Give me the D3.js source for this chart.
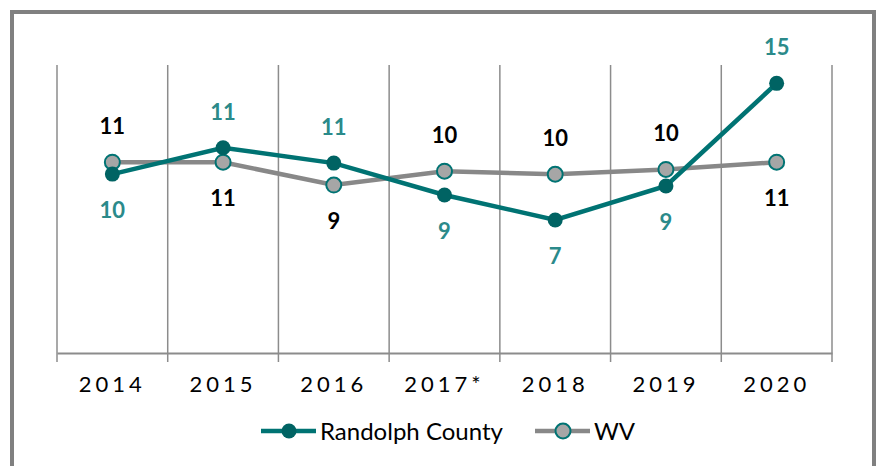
<!DOCTYPE html>
<html>
<head>
<meta charset="utf-8">
<script src="https://cdn.jsdelivr.net/npm/d3@7"></script>
<style>
  body { margin: 0; background: #fff; }
  text { font-family: Lato, "Open Sans", sans-serif; }
</style>
</head>
<body>
<div id="container"></div>
<script>
/* DATA */
const years = ["2014", "2015", "2016", "2017*", "2018", "2019", "2020"];
const randolph = [9.94, 11.4, 10.55, 8.78, 7.39, 9.28, 14.98];
const wv = [10.6, 10.6, 9.33, 10.1, 9.93, 10.2, 10.6];
const seriesNames = ["Randolph County", "WV"];

/* CONSTANTS */
const width = 880;
const height = 466;
const plot = { left: 57, right: 832, top: 65, bottom: 353 };

const teal = "#007373";
const tealDark = "#006363";
const tealText = "#2b8a8a";
const gray = "#888888";

const svg = d3.select("#container")
  .append("svg")
  .attr("width", width)
  .attr("height", height)

// outer frame
svg.append("rect")
  .attr("x", 12)
  .attr("y", 12)
  .attr("width", 862)
  .attr("height", 470)
  .attr("fill", "none")
  .attr("stroke", "#808080")
  .attr("stroke-width", 4)

const xScale = d3.scaleBand()
  .domain(years)
  .range([plot.left, plot.right])

const yScale = d3.scaleLinear()
  .domain([0, 16])
  .range([plot.bottom, plot.top])

const cx = d => xScale(d) + xScale.bandwidth() / 2;

// vertical gridlines at category boundaries
const bounds = years.map(d => xScale(d)).concat([plot.right]);
svg.selectAll(".grid")
  .data(bounds)
  .join("line")
  .attr("class", "grid")
  .attr("x1", d => d)
  .attr("x2", d => d)
  .attr("y1", plot.top)
  .attr("y2", plot.bottom + 9)
  .attr("stroke", "#8c8c8c")
  .attr("stroke-width", 1.5)

// x axis
const xAxis = d3.axisBottom(xScale).tickSize(0).tickPadding(23)
const gx = svg.append("g")
  .attr("transform", `translate(0, ${plot.bottom})`)
  .call(xAxis)
gx.select(".domain")
  .attr("stroke", "#8c8c8c")
  .attr("stroke-width", 2)
gx.selectAll("text")
  .attr("font-size", 22)
  .attr("fill", "#000")
  .attr("letter-spacing", 4)
  .attr("font-family", "Lato, sans-serif")

const line = d3.line()
  .x((d, i) => cx(years[i]))
  .y(d => yScale(d))

// WV line
svg.append("path")
  .datum(wv)
  .attr("fill", "none")
  .attr("stroke", gray)
  .attr("stroke-width", 4.5)
  .attr("d", line)

// Randolph line
svg.append("path")
  .datum(randolph)
  .attr("fill", "none")
  .attr("stroke", teal)
  .attr("stroke-width", 4.5)
  .attr("d", line)

svg.selectAll(".wvDot")
  .data(wv)
  .join("circle")
  .attr("class", "wvDot")
  .attr("cx", (d, i) => cx(years[i]))
  .attr("cy", d => yScale(d))
  .attr("r", 7.5)
  .attr("fill", "#a6a6a6")
  .attr("stroke", teal)
  .attr("stroke-width", 2)

svg.selectAll(".rDot")
  .data(randolph)
  .join("circle")
  .attr("class", "rDot")
  .attr("cx", (d, i) => cx(years[i]))
  .attr("cy", d => yScale(d))
  .attr("r", 7.5)
  .attr("fill", tealDark)

// data labels: placed on the side away from the other series
function labels(data, other, color, cls) {
  svg.selectAll("." + cls)
    .data(data)
    .join("text")
    .attr("class", cls)
    .attr("x", (d, i) => cx(years[i]))
    .attr("y", (d, i) => yScale(d) + (d >= other[i] ? -36 : 36))
    .attr("dy", "0.36em")
    .attr("text-anchor", "middle")
    .attr("font-size", 22)
    .attr("font-weight", "bold")
    .attr("fill", color)
    .text(d => Math.round(d))
}
labels(randolph, wv, tealText, "rLab")
labels(wv, randolph, "#000", "wLab")

// legend
const legend = svg.append("g").attr("transform", "translate(0, 431)")
const items = [
  { x: 261, name: seriesNames[0], stroke: teal, fill: tealDark, ring: null },
  { x: 535, name: seriesNames[1], stroke: gray, fill: "#a6a6a6", ring: teal }
];
items.forEach(it => {
  legend.append("line")
    .attr("x1", it.x).attr("x2", it.x + 55)
    .attr("y1", 0).attr("y2", 0)
    .attr("stroke", it.stroke)
    .attr("stroke-width", 4.5)
  legend.append("circle")
    .attr("cx", it.x + 28).attr("cy", 0)
    .attr("r", 7.5)
    .attr("fill", it.fill)
    .attr("stroke", it.ring || "none")
    .attr("stroke-width", 2)
  legend.append("text")
    .attr("x", it.x + 59)
    .attr("y", 0)
    .attr("dy", "0.36em")
    .attr("font-size", 24)
    .attr("fill", "#000")
    .text(it.name)
})
</script>
</body>
</html>
